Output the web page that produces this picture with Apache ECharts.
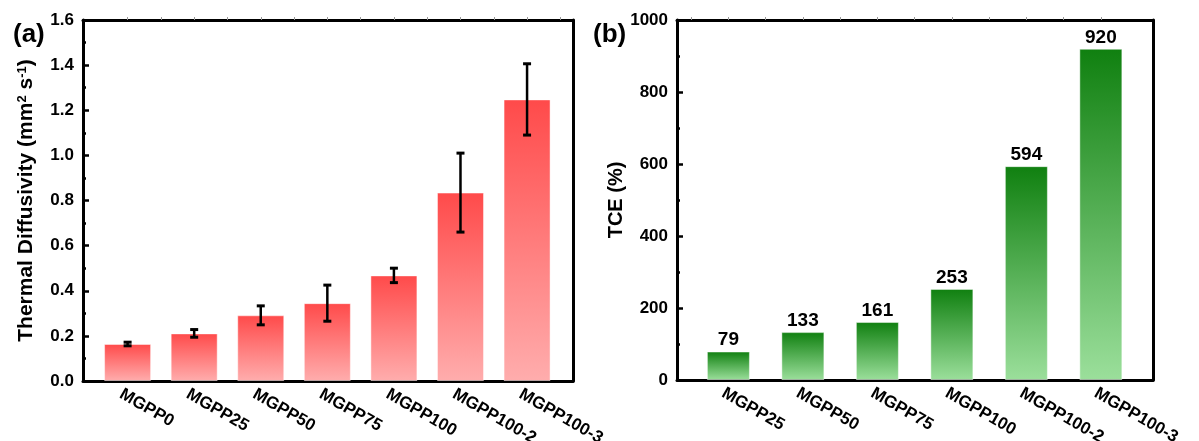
<!DOCTYPE html>
<html>
<head>
<meta charset="utf-8">
<script src="https://cdn.jsdelivr.net/npm/echarts@6/dist/echarts.min.js"></script>
<style>
  html, body { margin: 0; padding: 0; background: #fff; }
  #main { width: 1199px; height: 441px; }
</style>
</head>
<body>
<div id="main"></div>
<script>
// (a) thermal diffusivity
const diffNames = ['MGPP0', 'MGPP25', 'MGPP50', 'MGPP75', 'MGPP100', 'MGPP100-2', 'MGPP100-3']
const diffValues = [0.164, 0.211, 0.291, 0.345, 0.468, 0.835, 1.248]
const diffErrors = [0.008, 0.017, 0.042, 0.080, 0.032, 0.175, 0.158]

// (b) TCE
const tceNames = ['MGPP25', 'MGPP50', 'MGPP75', 'MGPP100', 'MGPP100-2', 'MGPP100-3']
const tceValues = [79, 133, 161, 253, 594, 920]

const FONT = 'Liberation Sans, Arial, sans-serif'
const chart = echarts.init(document.getElementById('main'))

const redGradient = new echarts.graphic.LinearGradient(0, 0, 0, 1, [
  { offset: 0, color: '#ff4a4a' },
  { offset: 1, color: '#ffadad' }
])
const greenGradient = new echarts.graphic.LinearGradient(0, 0, 0, 1, [
  { offset: 0, color: '#108010' },
  { offset: 1, color: '#9bdf9b' }
])

const labelStyle = { fontFamily: FONT, fontWeight: 'bold', fontSize: 17, color: '#000' }
const lineStyle = { color: '#000', width: 3 }

// bottom x axis (value type so the bars keep the wider side margins of the original)
// labels are nudged a bit left of the bar centre, like the rotated labels in the figure
const bottomAxis = (grid, names, min, max, shift) => ({
  type: 'value',
  gridIndex: grid,
  min: min,
  max: max,
  position: 'bottom',
  axisLine: { show: true, onZero: false, lineStyle: lineStyle },
  axisTick: { show: false },
  splitLine: { show: false },
  axisLabel: {
    ...labelStyle,
    rotate: -30,
    margin: 12,
    customValues: names.map((_, i) => i - shift),
    formatter: (v) => names[Math.round(v)]
  }
})

const topAxis = (grid, ticks, min, max) => ({
  type: 'value',
  gridIndex: grid,
  min: min,
  max: max,
  position: 'top',
  axisLine: { show: true, onZero: false, lineStyle: lineStyle },
  axisTick: { show: true, inside: false, length: 3, customValues: ticks, lineStyle: { color: '#999', width: 1 } },
  axisLabel: { show: false },
  splitLine: { show: false }
})

const rightAxis = (grid, max) => ({
  type: 'value',
  gridIndex: grid,
  min: 0,
  max: max,
  position: 'right',
  axisLine: { show: true, onZero: false, lineStyle: lineStyle },
  axisTick: { show: false },
  axisLabel: { show: false },
  splitLine: { show: false }
})

const errorSeries = {
  type: 'custom',
  xAxisIndex: 0,
  yAxisIndex: 0,
  z: 5,
  data: diffValues.map((v, i) => [i, v - diffErrors[i], v + diffErrors[i]]),
  renderItem: function (params, api) {
    const lo = api.coord([api.value(0), api.value(1)])
    const hi = api.coord([api.value(0), api.value(2)])
    const cap = 4
    const style = { stroke: '#000', lineWidth: 3 }
    return {
      type: 'group',
      children: [
        { type: 'line', shape: { x1: lo[0], y1: lo[1], x2: hi[0], y2: hi[1] }, style: { stroke: '#000', lineWidth: 2.5 } },
        { type: 'line', shape: { x1: lo[0] - cap, y1: lo[1], x2: lo[0] + cap, y2: lo[1] }, style: style },
        { type: 'line', shape: { x1: hi[0] - cap, y1: hi[1], x2: hi[0] + cap, y2: hi[1] }, style: style }
      ]
    }
  }
}

const option = {
  animation: false,
  backgroundColor: '#fff',
  title: [
    { text: '(a)', left: 8, top: 17, textStyle: { fontFamily: FONT, fontWeight: 'bold', fontSize: 26, color: '#000' } },
    { text: '(b)', left: 588, top: 17, textStyle: { fontFamily: FONT, fontWeight: 'bold', fontSize: 26, color: '#000' } }
  ],
  grid: [
    { left: 83, top: 20, width: 490, height: 361, outerBoundsMode: 'none' },
    { left: 677, top: 20, width: 476, height: 360, outerBoundsMode: 'none' }
  ],
  xAxis: [
    bottomAxis(0, diffNames, -0.67, 6.69, 0.1),
    bottomAxis(1, tceNames, -0.69, 5.7, 0.07),
    topAxis(0, diffNames.flatMap((_, i) => [i, i + 0.5]), -0.67, 6.69),
    topAxis(1, tceNames.flatMap((_, i) => [i - 0.5, i]), -0.69, 5.7)
  ],
  yAxis: [
    {
      type: 'value',
      gridIndex: 0,
      min: 0,
      max: 1.6,
      interval: 0.2,
      name: '{n|Thermal Diffusivity (mm}{sup|2}{n| s}{sup|-1}{n|)}',
      nameLocation: 'middle',
      nameRotate: 90,
      nameGap: 46,
      nameTextStyle: {
        rich: {
          n: { fontFamily: FONT, fontWeight: 'bold', fontSize: 21, color: '#000' },
          sup: { fontFamily: FONT, fontWeight: 'bold', fontSize: 13, color: '#000', verticalAlign: 'top' }
        }
      },
      axisLine: { show: true, onZero: false, lineStyle: lineStyle },
      axisTick: { show: true, inside: true, length: 6, lineStyle: { color: '#000', width: 2.5 } },
      minorTick: { show: true, splitNumber: 2, length: 3, lineStyle: { color: '#000', width: 2.5 } },
      axisLabel: { ...labelStyle, margin: 9, formatter: (v) => v.toFixed(1) },
      splitLine: { show: false }
    },
    {
      type: 'value',
      gridIndex: 1,
      min: 0,
      max: 1000,
      interval: 200,
      name: 'TCE (%)',
      nameLocation: 'middle',
      nameRotate: 90,
      nameGap: 42,
      nameTextStyle: { fontFamily: FONT, fontWeight: 'bold', fontSize: 20, color: '#000' },
      axisLine: { show: true, onZero: false, lineStyle: lineStyle },
      axisTick: { show: true, inside: true, length: 6, lineStyle: { color: '#000', width: 2.5 } },
      minorTick: { show: true, splitNumber: 2, length: 3, lineStyle: { color: '#000', width: 2.5 } },
      axisLabel: { ...labelStyle, margin: 9, formatter: (v) => String(v) },
      splitLine: { show: false }
    },
    rightAxis(0, 1.6),
    rightAxis(1, 1000)
  ],
  series: [
    {
      name: 'Thermal Diffusivity',
      type: 'bar',
      xAxisIndex: 0,
      yAxisIndex: 0,
      barWidth: 47,
      data: diffValues.map((v, i) => [i, v]),
      itemStyle: { color: redGradient, borderColor: 'rgba(255,255,255,0.45)', borderWidth: 1 }
    },
    errorSeries,
    {
      name: 'TCE',
      type: 'bar',
      xAxisIndex: 1,
      yAxisIndex: 1,
      barWidth: 43,
      data: tceValues.map((v, i) => [i, v]),
      itemStyle: { color: greenGradient, borderColor: 'rgba(255,255,255,0.45)', borderWidth: 1 },
      label: {
        show: true,
        position: 'top',
        distance: 2,
        fontFamily: FONT,
        fontWeight: 'bold',
        fontSize: 19,
        color: '#000',
        formatter: (p) => p.value[1]
      }
    }
  ]
}

chart.setOption(option)
</script>
</body>
</html>
